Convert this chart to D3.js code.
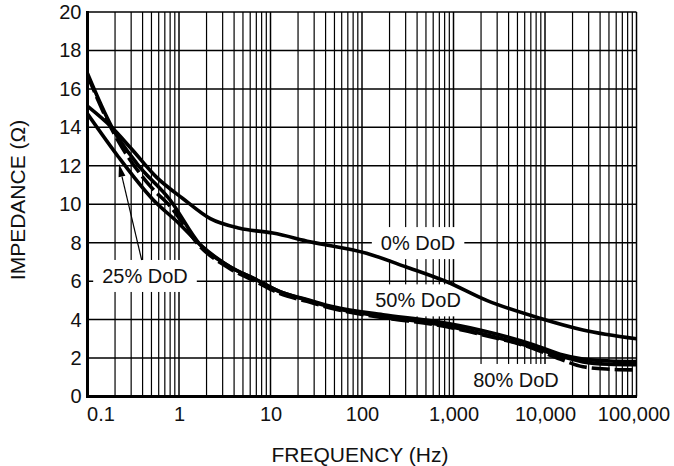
<!DOCTYPE html>
<html>
<head>
<meta charset="utf-8">
<script src="https://cdn.jsdelivr.net/npm/d3@7"></script>
<style>
  html, body { margin: 0; padding: 0; background: #fff; }
  svg { display: block; font-family: "Liberation Sans", Arial, Helvetica, sans-serif; }
</style>
</head>
<body>
<svg id="chart" width="674" height="466"></svg>
<script>
// ---------------- data ----------------
const xTickValues = [0.1, 1, 10, 100, 1000, 10000, 100000];
const xTickLabels = ["0.1", "1", "10", "100", "1,000", "10,000", "100,000"];
const yTickValues = [0, 2, 4, 6, 8, 10, 12, 14, 16, 18, 20];
const yTickLabels = ["0", "2", "4", "6", "8", "10", "12", "14", "16", "18", "20"];
const xTitle = "FREQUENCY (Hz)";
const yTitle = "IMPEDANCE (\u03A9)";

const freq0 = [0.1, 0.184, 0.3, 0.57, 1.1, 2.2, 4.6, 10.6, 27, 112, 300, 843, 2300, 8800, 26000, 100000];
const imp0  = [15.1, 14.0, 12.9, 11.4, 10.3, 9.25, 8.75, 8.5, 8.05, 7.45, 6.75, 5.97, 5.0, 4.07, 3.46, 3.0];

const freq25 = [0.1, 0.217, 0.524, 1, 1.7, 3.6, 7.1, 12.7, 25, 50, 170, 600, 2100, 7450, 14600, 26000, 50000, 100000];
const imp25  = [14.7, 12.47, 10.22, 9.0, 7.9, 6.75, 6.06, 5.45, 5.02, 4.6, 4.15, 3.8, 3.25, 2.55, 2.1, 1.8, 1.68, 1.65];

const freq50 = [0.1, 0.184, 0.345, 0.8, 1.7, 3.6, 7.1, 12.7, 25, 50, 170, 600, 2100, 7450, 14600, 26000, 50000, 100000];
const imp50  = [16.8, 14.03, 12.13, 10.22, 7.9, 6.75, 6.06, 5.45, 5.05, 4.65, 4.25, 3.92, 3.42, 2.7, 2.2, 1.95, 1.85, 1.82];

const freq80 = [0.1, 0.184, 0.374, 0.504, 0.8, 1.7, 3.6, 7.1, 12.7, 25, 50, 170, 600, 2100, 7450, 14600, 26000, 50000, 100000];
const imp80  = [16.7, 13.9, 11.6, 10.85, 9.9, 7.8, 6.65, 5.95, 5.35, 4.95, 4.55, 4.1, 3.75, 3.2, 2.5, 1.95, 1.55, 1.42, 1.38];

const seriesNames = ["0% DoD", "25% DoD", "50% DoD", "80% DoD"];

// annotation anchors in data units (frequency, impedance)
const labelFreq = [410, 0.425, 410, 4820];
const labelImp  = [7.98, 6.27, 5.0, 0.86];
const arrowFrom = [0.391, 7.1];
const arrowTo   = [0.221, 12.1];

// ---------------- drawing ----------------
const svg = d3.select("#chart");
svg.append("rect").attr("width", 674).attr("height", 466).attr("fill", "#fff");

const x = d3.scaleLog().domain([0.1, 100000]).range([87.5, 636.5]);
const y = d3.scaleLinear().domain([0, 20]).range([396.5, 12]);

const grid = svg.append("g");
grid.selectAll("line.v").data(x.ticks()).join("line")
  .attr("x1", d => x(d)).attr("x2", d => x(d))
  .attr("y1", y(0)).attr("y2", y(20))
  .attr("stroke", "#000")
  .attr("stroke-width", d => Math.abs(Math.log10(d) - Math.round(Math.log10(d))) < 1e-9 ? 1.5 : 1.2);
grid.selectAll("line.h").data(yTickValues).join("line")
  .attr("x1", x(0.1)).attr("x2", x(100000))
  .attr("y1", d => y(d)).attr("y2", d => y(d))
  .attr("stroke", "#000").attr("stroke-width", 1.5);

const FS = 20;
const boxes = svg.append("g");
const curveG = svg.append("g");
const labels = svg.append("g");

// label texts
const labelTexts = labels.selectAll("text").data(seriesNames).join("text")
  .attr("x", (d, i) => x(labelFreq[i]))
  .attr("y", (d, i) => y(labelImp[i]))
  .attr("text-anchor", "middle")
  .attr("dominant-baseline", "central")
  .attr("font-size", FS)
  .attr("fill", "#111")
  .text(d => d);
// white boxes behind labels (hide grid, stay under curves)
labelTexts.each(function() {
  const b = this.getBBox();
  boxes.append("rect")
    .attr("x", b.x - 9).attr("y", b.y + b.height / 2 - 16)
    .attr("width", b.width + 18).attr("height", 32)
    .attr("fill", "#fff");
});

// curves
const line = d3.line()
  .x(d => x(d[0])).y(d => y(d[1]))
  .curve(d3.curveMonotoneX);
const zip = (f, z) => f.map((v, i) => [v, z[i]]);
const curves = [
  { pts: zip(freq0, imp0), dash: null },
  { pts: zip(freq25, imp25), dash: null },
  { pts: zip(freq50, imp50), dash: null },
  { pts: zip(freq80, imp80), dash: "18,5" }
];
svg.append("clipPath").attr("id", "clip").append("rect")
  .attr("x", x(0.1)).attr("y", y(20)).attr("width", x(100000) - x(0.1)).attr("height", y(0) - y(20));
curveG.attr("clip-path", "url(#clip)")
  .selectAll("path").data(curves).join("path")
  .attr("d", d => line(d.pts))
  .attr("fill", "none").attr("stroke", "#000")
  .attr("stroke-width", 3.6)
  .attr("stroke-linejoin", "round")
  .attr("stroke-dasharray", d => d.dash);

// arrow for 25% DoD
const ax1 = x(arrowFrom[0]), ay1 = y(arrowFrom[1]);
const ax2 = x(arrowTo[0]), ay2 = y(arrowTo[1]);
const ang = Math.atan2(ay2 - ay1, ax2 - ax1);
const hl = 13, hw = 3.5;
const bx = ax2 - hl * Math.cos(ang), by = ay2 - hl * Math.sin(ang);
svg.append("line")
  .attr("x1", ax1).attr("y1", ay1).attr("x2", bx).attr("y2", by)
  .attr("stroke", "#000").attr("stroke-width", 1.2);
svg.append("path")
  .attr("d", `M${ax2},${ay2} L${bx + hw * Math.sin(ang)},${by - hw * Math.cos(ang)} L${bx - hw * Math.sin(ang)},${by + hw * Math.cos(ang)} Z`)
  .attr("fill", "#000");

// axes lines
svg.append("line").attr("x1", x(0.1)).attr("x2", x(0.1)).attr("y1", y(20) - 1).attr("y2", y(0) + 1.5)
  .attr("stroke", "#000").attr("stroke-width", 3);
svg.append("line").attr("x1", x(0.1) - 1.5).attr("x2", x(100000) + 0.5).attr("y1", y(0)).attr("y2", y(0))
  .attr("stroke", "#000").attr("stroke-width", 3);

// x axis labels
const xAxis = d3.axisBottom(x).tickValues(xTickValues)
  .tickFormat((d, i) => xTickLabels[i]).tickSize(0).tickPadding(10);
const gx = svg.append("g").attr("transform", `translate(0,${y(0)})`).call(xAxis);
gx.select(".domain").remove();
gx.selectAll("text").attr("font-size", FS).attr("fill", "#111")
  .attr("font-family", "Liberation Sans, Arial, sans-serif")
  .attr("dx", (d, i) => i === 0 ? 13 : (i === xTickValues.length - 1 ? -3 : 0));

// y axis labels
const yAxis = d3.axisLeft(y).tickValues(yTickValues)
  .tickFormat((d, i) => yTickLabels[i]).tickSize(0).tickPadding(6);
const gy = svg.append("g").attr("transform", `translate(${x(0.1)},0)`).call(yAxis);
gy.select(".domain").remove();
gy.selectAll("text").attr("font-size", FS).attr("fill", "#111")
  .attr("font-family", "Liberation Sans, Arial, sans-serif");

// titles
svg.append("text").attr("x", 360).attr("y", 461.5).attr("text-anchor", "middle")
  .attr("font-size", 21).attr("fill", "#111").text(xTitle);
svg.append("text").attr("transform", "translate(25,200) rotate(-90)").attr("text-anchor", "middle")
  .attr("font-size", 21).attr("fill", "#111").text(yTitle);
</script>
</body>
</html>
